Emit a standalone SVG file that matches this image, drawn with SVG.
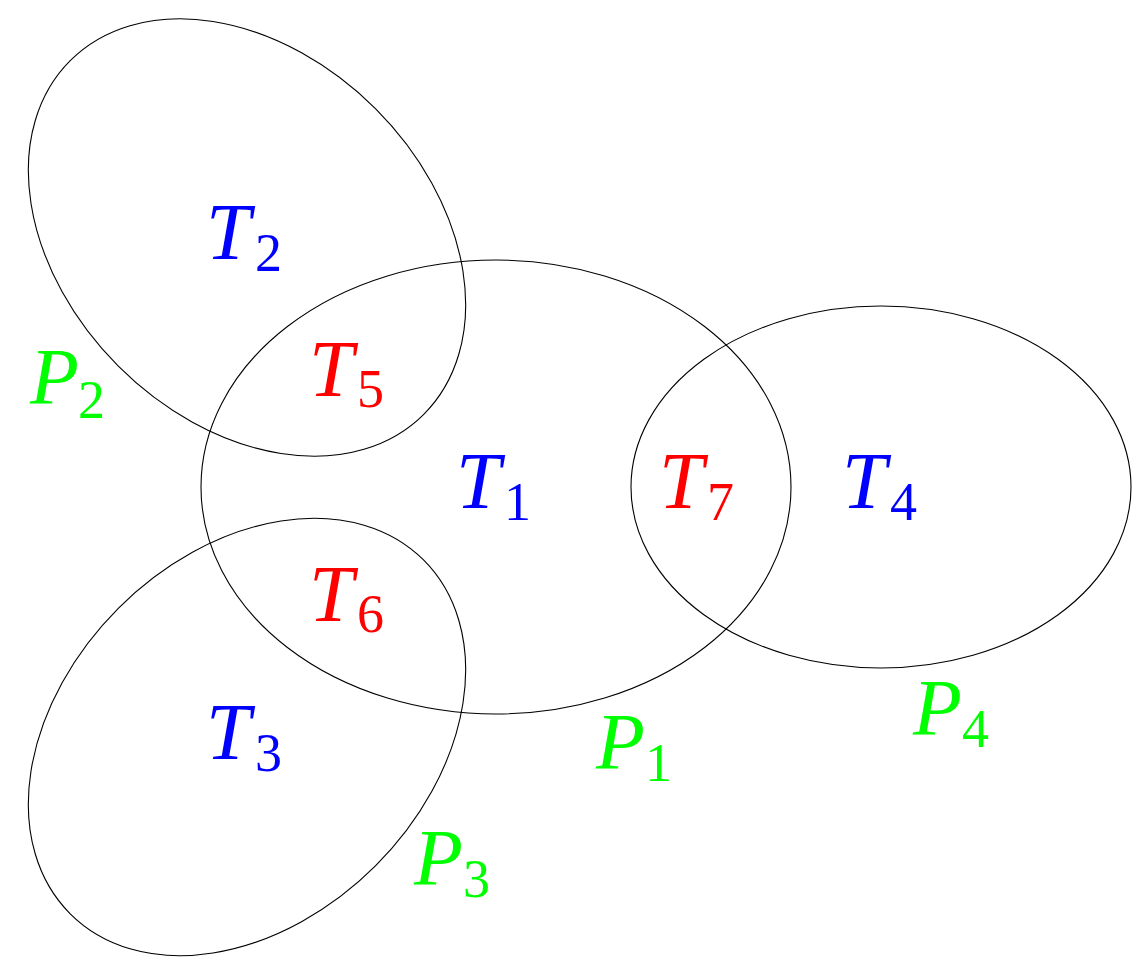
<svg xmlns="http://www.w3.org/2000/svg" width="1137" height="964" viewBox="0 0 1137 964">
<style>
.set{fill:none;stroke:#000;stroke-width:1.1}
.lab{font-family:"Liberation Serif","DejaVu Serif",serif;font-style:italic;font-size:80px}
.sub{font-family:"Liberation Serif","DejaVu Serif",serif;font-style:normal;font-size:54px}
.b{fill:#0000ff}.r{fill:#ff0000}.g{fill:#00ff00}
</style>
<rect width="1137" height="964" fill="#fff"/>
<g id="connectors"></g>
<g id="P1"><ellipse class="set" cx="496" cy="487" rx="295" ry="227"/></g>
<g id="P4"><ellipse class="set" cx="881" cy="487" rx="250" ry="181"/></g>
<g id="P2"><ellipse class="set" cx="0" cy="0" rx="250" ry="182" transform="translate(247 237.5) rotate(45)"/></g>
<g id="P3"><ellipse class="set" cx="0" cy="0" rx="250" ry="182" transform="translate(247 737) rotate(-45)"/></g>
<g id="T2"><text class="lab b" x="206" y="259">T</text><text class="sub b" x="255" y="271">2</text></g>
<g id="T5"><text class="lab r" x="309" y="396">T</text><text class="sub r" x="357" y="407">5</text></g>
<g id="T1"><text class="lab b" x="456" y="508">T</text><text class="sub b" x="504" y="520">1</text></g>
<g id="T7"><text class="lab r" x="659" y="508">T</text><text class="sub r" x="707" y="520">7</text></g>
<g id="T4"><text class="lab b" x="842" y="508">T</text><text class="sub b" x="890" y="520">4</text></g>
<g id="T6"><text class="lab r" x="309" y="621">T</text><text class="sub r" x="357" y="632">6</text></g>
<g id="T3"><text class="lab b" x="206" y="759">T</text><text class="sub b" x="255" y="771">3</text></g>
<g id="P2label"><text class="lab g" x="30" y="404">P</text><text class="sub g" x="78" y="418">2</text></g>
<g id="P1label"><text class="lab g" x="596" y="769">P</text><text class="sub g" x="645" y="781">1</text></g>
<g id="P4label"><text class="lab g" x="913" y="735">P</text><text class="sub g" x="962" y="747">4</text></g>
<g id="P3label"><text class="lab g" x="414" y="885">P</text><text class="sub g" x="463" y="897">3</text></g>
</svg>
